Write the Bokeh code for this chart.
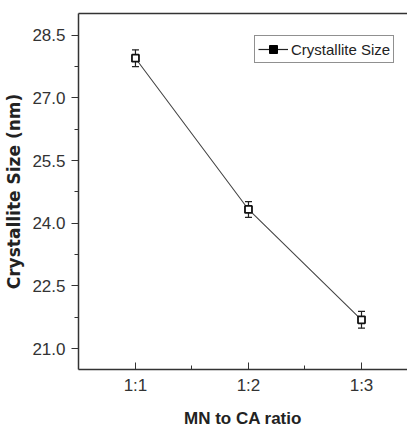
from bokeh.plotting import figure
from bokeh.models import (ColumnDataSource, FixedTicker, Whisker, Legend, LegendItem,
                          LinearAxis, Range1d, TeeHead, NumeralTickFormatter)
from bokeh.embed import file_html
from bokeh.resources import INLINE

ratios = ["1:1", "1:2", "1:3"]
x_pos = [1, 2, 3]
crystallite_size = [27.95, 24.33, 21.69]
size_error = [0.20, 0.19, 0.20]
y_ticks = [21.0, 22.5, 24.0, 25.5, 27.0, 28.5]
y_minor = [20.25, 21.75, 23.25, 24.75, 26.25, 27.75]

src = ColumnDataSource(dict(
    x=x_pos, y=crystallite_size,
    upper=[v + e for v, e in zip(crystallite_size, size_error)],
    lower=[v - e for v, e in zip(crystallite_size, size_error)],
))

p = figure(width=407, height=430, output_backend="svg", toolbar_location=None,
           x_range=Range1d(0.496, 3.407), y_range=Range1d(20.5, 29.02),
           min_border_left=78, min_border_right=0, min_border_top=13, min_border_bottom=59)
p.outline_line_color = None
p.xgrid.visible = False
p.ygrid.visible = False
p.background_fill_color = "white"
p.border_fill_color = "white"

font = "Liberation Sans"

# x axis
xa = p.xaxis[0]
xa.ticker = FixedTicker(ticks=x_pos, minor_ticks=[1.5, 2.5])
xa.major_label_overrides = {k: v for k, v in zip(x_pos, ratios)}
xa.major_tick_in = 7
xa.major_tick_out = 0
xa.minor_tick_in = 4
xa.minor_tick_out = 0
xa.axis_label = "MN to CA ratio"
xa.axis_label_text_font = font
xa.axis_label_text_font_style = "bold"
xa.axis_label_text_font_size = "17px"
xa.axis_label_text_color = "#222222"
xa.axis_label_standoff = 11
xa.major_label_text_font = font
xa.major_label_text_font_size = "17px"
xa.major_label_text_color = "#333333"
xa.major_label_standoff = 6
xa.axis_line_color = "#333333"
xa.major_tick_line_color = "#333333"
xa.minor_tick_line_color = "#333333"
xa.axis_line_width = 1.5

# y axis
ya = p.yaxis[0]
ya.ticker = FixedTicker(ticks=y_ticks, minor_ticks=y_minor)
ya.formatter = NumeralTickFormatter(format="0.0")
ya.major_tick_in = 0
ya.major_tick_out = 7
ya.minor_tick_in = 0
ya.minor_tick_out = 4
ya.axis_label = "Crystallite Size (nm)"
ya.axis_label_text_font = "DejaVu Sans"
ya.axis_label_text_font_style = "bold"
ya.axis_label_text_font_size = "17px"
ya.axis_label_text_color = "#222222"
ya.axis_label_standoff = 5
ya.major_label_text_font = font
ya.major_label_text_font_size = "17px"
ya.major_label_text_color = "#333333"
ya.major_label_standoff = 6
ya.axis_line_color = "#333333"
ya.major_tick_line_color = "#333333"
ya.minor_tick_line_color = "#333333"
ya.axis_line_width = 1.5

# top border
top = LinearAxis(ticker=FixedTicker(ticks=[]), major_tick_line_color=None,
                 minor_tick_line_color=None, axis_line_color="#333333",
                 axis_line_width=1.5)
p.add_layout(top, "above")

p.line("x", "y", source=src, line_color="#444444", line_width=1.1)
p.add_layout(Whisker(source=src, base="x", upper="upper", lower="lower",
                     line_color="#222222", line_width=1.2,
                     upper_head=TeeHead(size=7, line_color="#222222", line_width=1.2),
                     lower_head=TeeHead(size=7, line_color="#222222", line_width=1.2)))
p.scatter("x", "y", source=src, marker="square", size=7,
          fill_color="white", line_color="#111111", line_width=1.8)

# legend glyphs
leg_line = p.line([None], [None], line_color="#222222", line_width=1.2)
leg_pt = p.scatter([None], [None], marker="square", size=6,
                   fill_color="black", line_color="black")
legend = Legend(items=[LegendItem(label="Crystallite Size", renderers=[leg_line, leg_pt])],
                location=(176, 306), border_line_color="#222222", border_line_width=1.2,
                label_text_font=font, label_text_font_size="15px",
                label_text_color="#222222",
                glyph_width=30, glyph_height=20, padding=3, margin=0,
                label_standoff=3, spacing=0, background_fill_alpha=1)
p.add_layout(legend)

open("out.html", "w").write(file_html(p, INLINE))
